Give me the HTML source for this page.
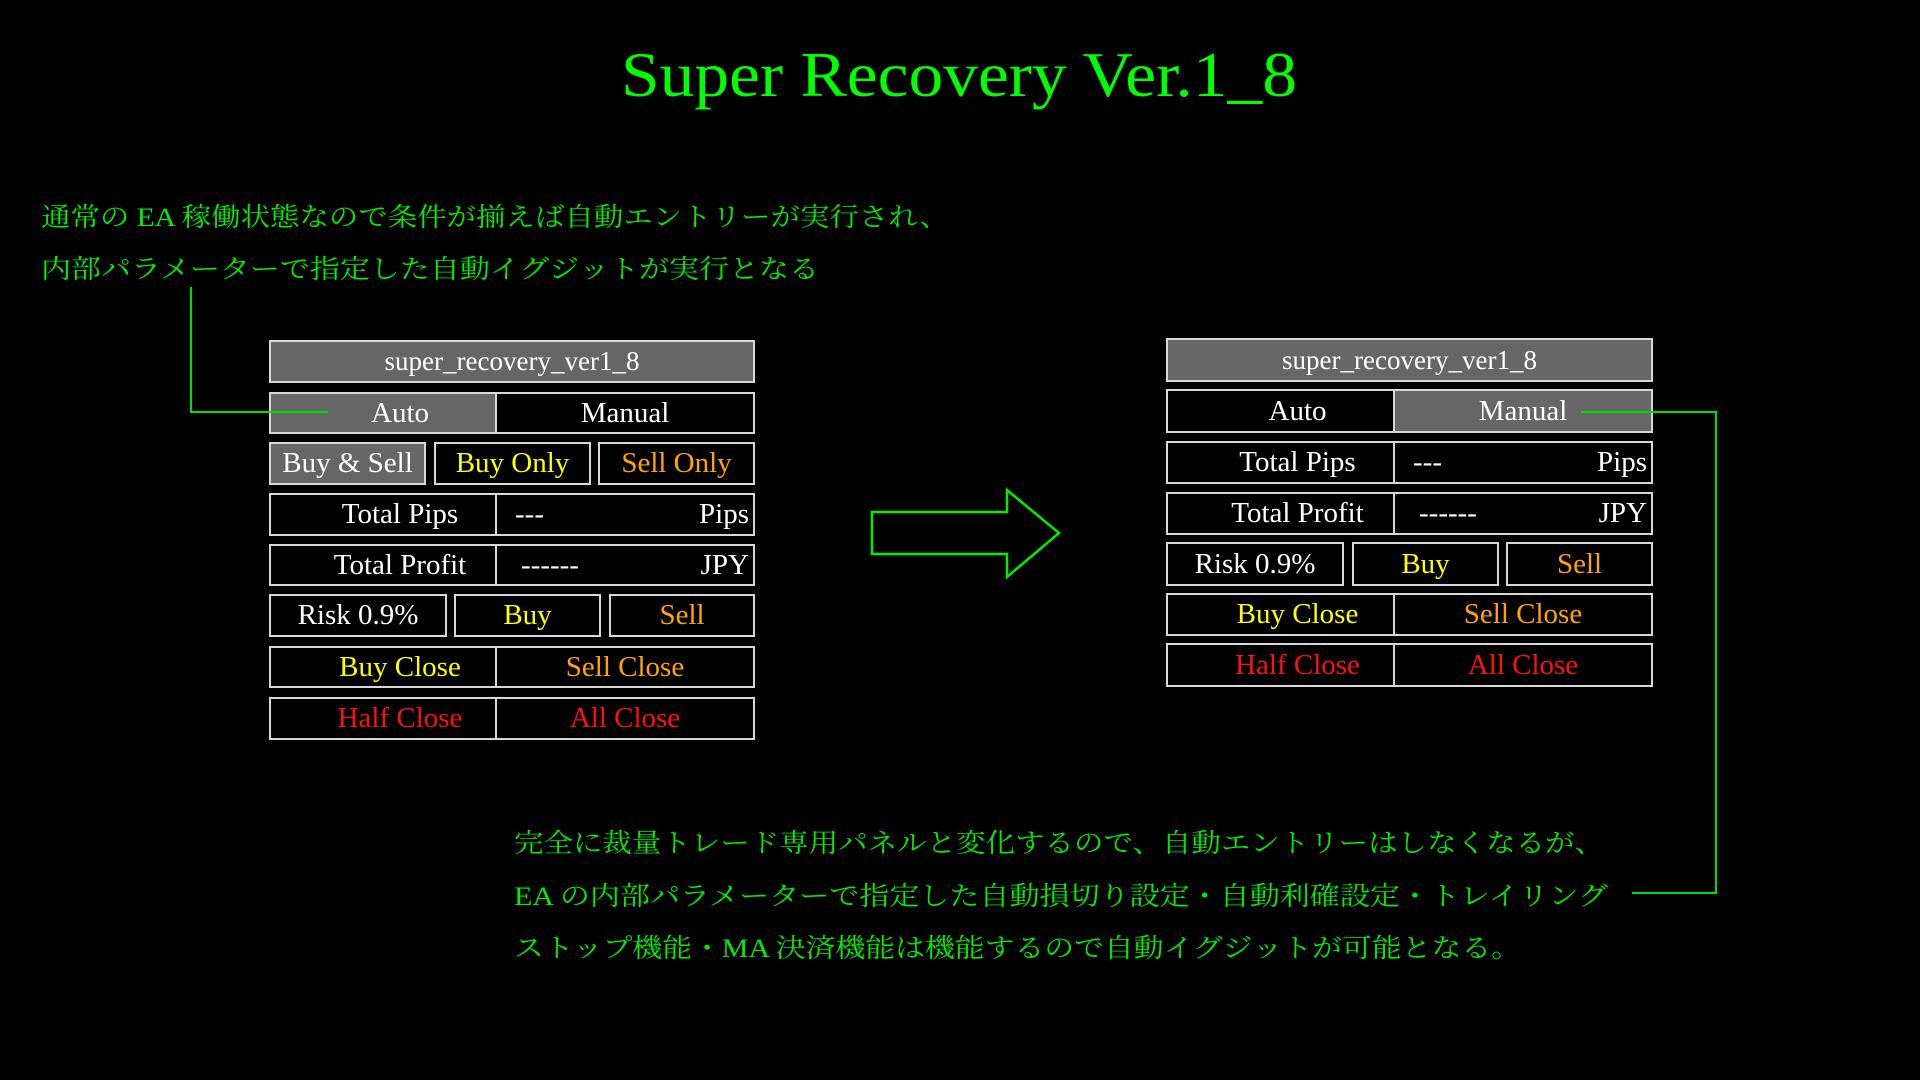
<!DOCTYPE html>
<html><head><meta charset="utf-8"><style>
html,body{margin:0;padding:0;background:#000;}
body{width:1920px;height:1080px;position:relative;overflow:hidden;font-family:"Liberation Serif","Noto Serif CJK JP",serif;}
.c{position:absolute;box-sizing:border-box;border:2px solid #d8d8d8;background:#000;color:#fff;font-size:29px;text-align:center;white-space:nowrap;overflow:hidden;}
.g{background:#666;}
.w{color:#fff}.y{color:#ffff00}.o{color:#ffa500}.r{color:#ff1010}
</style></head><body>
<svg width="1920" height="1080" style="position:absolute;left:0;top:0">
<text x="959" y="96" text-anchor="middle" font-family="Liberation Serif, serif" font-size="64" fill="#00ff00" textLength="676" lengthAdjust="spacingAndGlyphs">Super Recovery Ver.1_8</text>
<g font-family="Liberation Serif, Noto Serif CJK JP, serif" font-size="26" fill="#00ee00">
<text x="41" y="226" textLength="908" lengthAdjust="spacingAndGlyphs">通常の EA 稼働状態なので条件が揃えば自動エントリーが実行され、</text>
<text x="41" y="278" textLength="778" lengthAdjust="spacingAndGlyphs">内部パラメーターで指定した自動イグジットが実行となる</text>
<text x="514" y="852" textLength="1090" lengthAdjust="spacingAndGlyphs">完全に裁量トレード専用パネルと変化するので、自動エントリーはしなくなるが、</text>
<text x="514" y="905" textLength="1094" lengthAdjust="spacingAndGlyphs">EA の内部パラメーターで指定した自動損切り設定・自動利確設定・トレイリング</text>
<text x="514" y="957" textLength="1007" lengthAdjust="spacingAndGlyphs">ストップ機能・MA 決済機能は機能するので自動イグジットが可能となる。</text>
</g>
<polygon points="872,512 1007,512 1007,490 1059,533 1007,577 1007,554 872,554" fill="#000" stroke="#00ee00" stroke-width="2.5"/>
</svg>

<!-- LEFT PANEL -->
<div class="c g" style="left:269px;top:340px;width:486px;height:43px;line-height:39px;font-size:27px">super_recovery_ver1_8</div>
<div class="c g" style="left:269px;top:392px;width:228px;height:42px;line-height:38px;padding-left:34px">Auto</div>
<div class="c" style="left:495px;top:392px;width:260px;height:42px;line-height:38px">Manual</div>
<div class="c g" style="left:269px;top:442px;width:157px;height:43px;line-height:39px">Buy &amp; Sell</div>
<div class="c y" style="left:434px;top:442px;width:157px;height:43px;line-height:39px">Buy Only</div>
<div class="c o" style="left:598px;top:442px;width:157px;height:43px;line-height:39px">Sell Only</div>
<div class="c" style="left:269px;top:493px;width:228px;height:43px;line-height:39px;padding-left:34px">Total Pips</div>
<div class="c" style="left:495px;top:493px;width:260px;height:43px;line-height:39px;text-align:left;padding-left:18px">---<span style="position:absolute;right:4px">Pips</span></div>
<div class="c" style="left:269px;top:544px;width:228px;height:42px;line-height:38px;padding-left:34px">Total Profit</div>
<div class="c" style="left:495px;top:544px;width:260px;height:42px;line-height:38px;text-align:left;padding-left:24px">------<span style="position:absolute;right:4px">JPY</span></div>
<div class="c" style="left:269px;top:594px;width:178px;height:43px;line-height:39px">Risk 0.9%</div>
<div class="c y" style="left:454px;top:594px;width:147px;height:43px;line-height:39px">Buy</div>
<div class="c o" style="left:609px;top:594px;width:146px;height:43px;line-height:39px">Sell</div>
<div class="c y" style="left:269px;top:646px;width:228px;height:42px;line-height:38px;padding-left:34px">Buy Close</div>
<div class="c o" style="left:495px;top:646px;width:260px;height:42px;line-height:38px">Sell Close</div>
<div class="c r" style="left:269px;top:697px;width:228px;height:43px;line-height:39px;padding-left:34px">Half Close</div>
<div class="c r" style="left:495px;top:697px;width:260px;height:43px;line-height:39px">All Close</div>

<!-- RIGHT PANEL -->
<div class="c g" style="left:1166px;top:338px;width:487px;height:44px;line-height:40px;font-size:27px">super_recovery_ver1_8</div>
<div class="c" style="left:1166px;top:389px;width:229px;height:44px;line-height:40px;padding-left:34px">Auto</div>
<div class="c g" style="left:1393px;top:389px;width:260px;height:44px;line-height:40px">Manual</div>
<div class="c" style="left:1166px;top:441px;width:229px;height:43px;line-height:39px;padding-left:34px">Total Pips</div>
<div class="c" style="left:1393px;top:441px;width:260px;height:43px;line-height:39px;text-align:left;padding-left:18px">---<span style="position:absolute;right:4px">Pips</span></div>
<div class="c" style="left:1166px;top:492px;width:229px;height:43px;line-height:39px;padding-left:34px">Total Profit</div>
<div class="c" style="left:1393px;top:492px;width:260px;height:43px;line-height:39px;text-align:left;padding-left:24px">------<span style="position:absolute;right:4px">JPY</span></div>
<div class="c" style="left:1166px;top:542px;width:178px;height:44px;line-height:40px">Risk 0.9%</div>
<div class="c y" style="left:1352px;top:542px;width:147px;height:44px;line-height:40px">Buy</div>
<div class="c o" style="left:1506px;top:542px;width:147px;height:44px;line-height:40px">Sell</div>
<div class="c y" style="left:1166px;top:593px;width:229px;height:43px;line-height:39px;padding-left:34px">Buy Close</div>
<div class="c o" style="left:1393px;top:593px;width:260px;height:43px;line-height:39px">Sell Close</div>
<div class="c r" style="left:1166px;top:643px;width:229px;height:44px;line-height:40px;padding-left:34px">Half Close</div>
<div class="c r" style="left:1393px;top:643px;width:260px;height:44px;line-height:40px">All Close</div>

<svg width="1920" height="1080" style="position:absolute;left:0;top:0;pointer-events:none">
<polyline points="191,287 191,412 328,412" fill="none" stroke="#00dd00" stroke-width="2"/>
<polyline points="1581,412 1716,412 1716,893 1632,893" fill="none" stroke="#00dd00" stroke-width="2"/>
</svg>
</body></html>
